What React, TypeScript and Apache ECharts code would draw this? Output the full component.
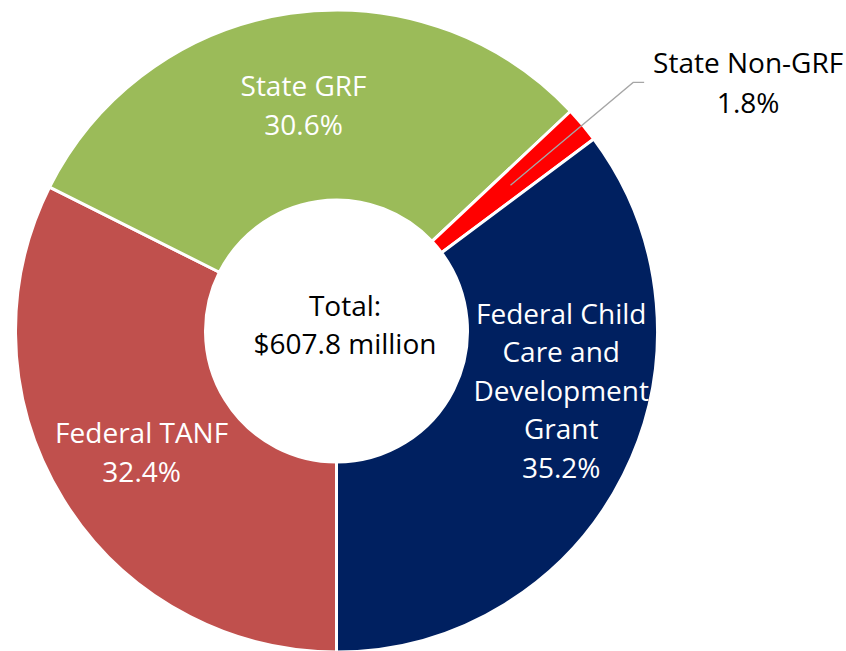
import React, { useEffect, useRef } from "react";
import * as echarts from "echarts";

const categories = [
  "Federal TANF",
  "State GRF",
  "State Non-GRF",
  "Federal Child\nCare and\nDevelopment\nGrant",
];
const shares = [32.4, 30.6, 1.8, 35.2];
const colors = ["#C0504D", "#9BBB59", "#FF0000", "#002060"];
const totalLabel = "Total:\n$607.8 million";
const outsideIndex = 2;

const FONT = "'Open Sans', 'Noto Sans', sans-serif";

export default function App() {
  const ref = useRef<HTMLDivElement>(null);
  useEffect(() => {
    document.body.style.margin = "0";
    if (!ref.current) return;
    const chart = echarts.init(ref.current, undefined, { renderer: "svg" });
    const center = [336.5, 331];
    const option: any = {
      animation: false,
      backgroundColor: "#ffffff",
      textStyle: { fontFamily: FONT },
      graphic: [
        {
          type: "text",
          x: 345,
          y: 324,
          style: {
            text: totalLabel,
            fill: "#000000",
            font: `28px ${FONT}`,
            lineHeight: 38,
            align: "center",
            verticalAlign: "middle",
          },
          z: 100,
        },
      ],
      series: [
        {
          type: "pie",
          z: 2,
          center,
          radius: [131, 321],
          startAngle: 270,
          clockwise: true,
          avoidLabelOverlap: false,
          silent: true,
          itemStyle: { borderColor: "#ffffff", borderWidth: 3 },
          label: {
            show: true,
            position: "inside",
            color: "#ffffff",
            fontSize: 28,
            lineHeight: 38.5,
            fontFamily: FONT,
            formatter: (p: any) => `${p.name}\n${shares[p.dataIndex].toFixed(1)}%`,
          },
          labelLine: { show: false },
          labelLayout: (p: any) =>
            p.dataIndex === 3 ? { dx: 20, dy: -44 } : {},
          data: categories.map((name, i) => ({
            name,
            value: shares[i],
            itemStyle: { color: colors[i] },
            label: { show: i !== outsideIndex },
          })),
        },
        {
          type: "pie",
          z: 5,
          center,
          radius: [131, 227],
          startAngle: 270,
          clockwise: true,
          silent: true,
          avoidLabelOverlap: false,
          itemStyle: { color: "rgba(0,0,0,0)", borderWidth: 0 },
          label: { show: false },
          labelLine: { show: false },
          data: categories.map((name, i) => ({
            name,
            value: shares[i],
            label:
              i === outsideIndex
                ? {
                    show: true,
                    position: "outside",
                    distanceToLabelLine: 8,
                    formatter: `{a|${name}}\n{a|${shares[i].toFixed(1)}%}`,
                    rich: {
                      a: {
                        width: 192,
                        align: "center",
                        fontSize: 28,
                        lineHeight: 40,
                        color: "#000000",
                        fontFamily: FONT,
                      },
                    },
                  }
                : { show: false },
            labelLine:
              i === outsideIndex
                ? {
                    show: true,
                    length: 160,
                    length2: 11,
                    lineStyle: { color: "#A6A6A6", width: 1.3 },
                  }
                : { show: false },
          })),
        },
      ],
    };
    chart.setOption(option);
    return () => chart.dispose();
  }, []);
  return <div ref={ref} style={{ width: 846, height: 651 }} />;
}
